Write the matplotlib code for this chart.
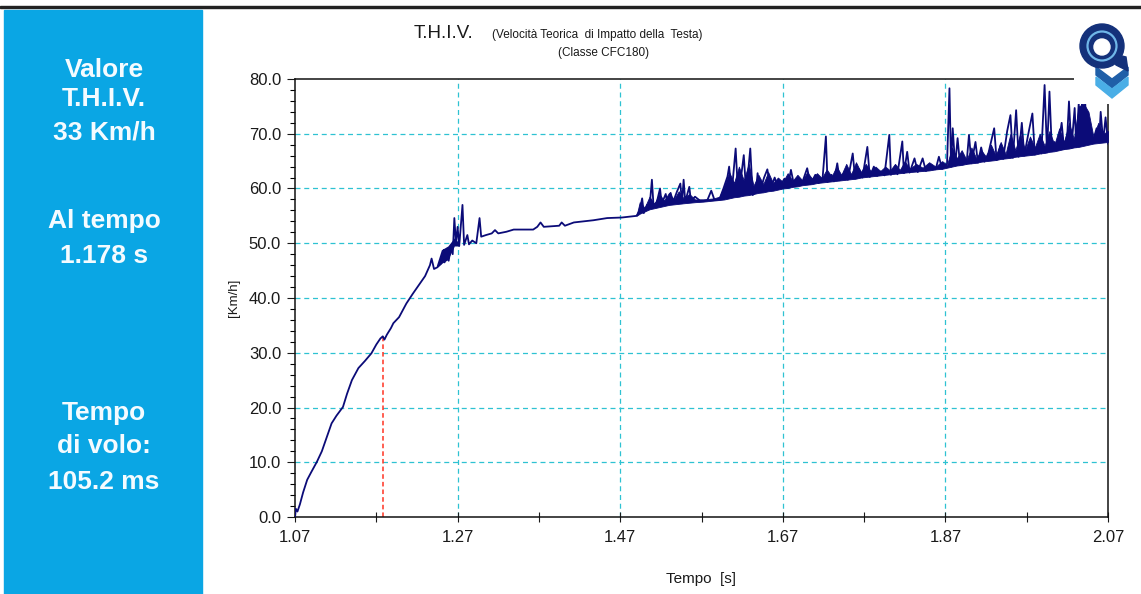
#!/usr/bin/env python3
"""
T.H.I.V. head impact velocity trace with side summary panel.
"""

import matplotlib
matplotlib.use("Agg")
import matplotlib.pyplot as plt
from matplotlib.patches import Rectangle, Circle, Polygon
from matplotlib.ticker import FixedLocator, MultipleLocator

W, H = 1141, 594
PANEL_BLUE = "#0AA6E4"
NAVY = "#0B0B78"
GRID_CYAN = "#2EC2D2"
RED = "#FF3322"
TEXT_DARK = "#1A1A1A"

# Summary panel texts
PANEL_LINES = ["Valore", "T.H.I.V.", "33 Km/h", "Al tempo", "1.178 s", "Tempo", "di volo:", "105.2 ms"]
PANEL_Y = [70, 99, 133, 221, 256, 413, 446, 482]

# THIV event
T_THIV = 1.178
V_THIV = 33.0

# Axis ticks
X_TICKS = [1.07, 1.17, 1.27, 1.37, 1.47, 1.57, 1.67, 1.77, 1.87, 1.97, 2.07]
X_LABELS = ["1.07", "", "1.27", "", "1.47", "", "1.67", "", "1.87", "", "2.07"]
X_GRID = [1.27, 1.47, 1.67, 1.87]
Y_TICKS = [0, 10, 20, 30, 40, 50, 60, 70, 80]

# Trace (time [s], velocity [Km/h])
TIME = [
    1.070, 1.071, 1.073, 1.076, 1.080, 1.085, 1.090, 1.097, 1.103, 1.110,
    1.115, 1.121, 1.129, 1.134, 1.140, 1.148, 1.156, 1.164, 1.170, 1.175,
    1.178, 1.180, 1.183, 1.188, 1.191, 1.198, 1.207, 1.215, 1.224, 1.230,
    1.236, 1.238, 1.241, 1.245, 1.250, 1.253, 1.254, 1.257, 1.259, 1.262,
    1.264, 1.266, 1.268, 1.270, 1.272, 1.276, 1.278, 1.282, 1.284, 1.288,
    1.293, 1.297, 1.299, 1.305, 1.312, 1.316, 1.320, 1.330, 1.339, 1.363,
    1.368, 1.372, 1.376, 1.395, 1.398, 1.402, 1.413, 1.437, 1.454, 1.472,
    1.490, 1.494, 1.497, 1.499, 1.503, 1.506, 1.509, 1.511, 1.515, 1.519,
    1.521, 1.526, 1.528, 1.532, 1.535, 1.540, 1.544, 1.546, 1.548, 1.550,
    1.555, 1.557, 1.562, 1.568, 1.577, 1.582, 1.586, 1.592, 1.597, 1.602,
    1.604, 1.607, 1.612, 1.615, 1.619, 1.622, 1.625, 1.630, 1.633, 1.637,
    1.639, 1.642, 1.647, 1.651, 1.655, 1.660, 1.664, 1.667, 1.672, 1.676,
    1.680, 1.684, 1.689, 1.693, 1.700, 1.704, 1.710, 1.714, 1.719, 1.723,
    1.725, 1.730, 1.733, 1.737, 1.740, 1.746, 1.750, 1.756, 1.759, 1.764,
    1.768, 1.774, 1.777, 1.782, 1.786, 1.790, 1.795, 1.801, 1.803, 1.808,
    1.811, 1.817, 1.819, 1.823, 1.826, 1.832, 1.836, 1.842, 1.846, 1.852,
    1.858, 1.862, 1.866, 1.872, 1.875, 1.877, 1.879, 1.882, 1.885, 1.888,
    1.893, 1.896, 1.899, 1.902, 1.907, 1.910, 1.914, 1.918, 1.923, 1.930,
    1.933, 1.938, 1.941, 1.946, 1.950, 1.953, 1.957, 1.960, 1.964, 1.967,
    1.972, 1.977, 1.980, 1.985, 1.988, 1.992, 1.995, 1.998, 2.001, 2.004,
    2.008, 2.013, 2.016, 2.020, 2.022, 2.025, 2.029, 2.031, 2.034, 2.036,
    2.038, 2.040, 2.042, 2.044, 2.047, 2.051, 2.056, 2.059, 2.061, 2.064,
    2.067, 2.070,
]
VELOCITY = [
    0.0, 1.5, 1.0, 2.3, 4.5, 6.8, 8.2, 10.1, 12.0, 15.0,
    17.1, 18.5, 20.1, 22.5, 25.0, 27.2, 28.5, 29.9, 31.5, 32.6,
    33.0, 32.4, 33.3, 34.5, 35.4, 36.5, 39.0, 40.8, 42.7, 44.0,
    46.0, 47.2, 45.3, 45.6, 46.3, 48.8, 46.5, 49.0, 46.8, 49.5,
    48.0, 54.6, 50.0, 53.0, 49.5, 57.0, 49.7, 51.5, 49.8, 50.5,
    50.0, 54.6, 51.2, 51.5, 51.8, 52.4, 51.8, 52.1, 52.5, 52.5,
    53.0, 53.8, 53.0, 53.2, 53.8, 53.2, 53.8, 54.2, 54.6, 54.7,
    55.0, 56.0, 58.2, 55.5, 57.0, 56.4, 61.6, 56.8, 57.5, 60.0,
    57.2, 59.0, 57.3, 59.2, 57.5, 59.5, 60.9, 57.3, 61.6, 57.6,
    60.3, 57.7, 58.5, 57.8, 57.8, 59.6, 57.9, 58.0, 60.0, 62.2,
    64.0, 59.0, 67.3, 59.0, 62.5, 66.1, 59.2, 67.3, 58.8, 59.4,
    62.8, 59.5, 62.0, 63.5, 60.0, 62.0, 60.0, 60.5, 61.8, 60.2,
    63.4, 60.5, 62.0, 60.7, 63.7, 60.8, 62.5, 61.0, 62.0, 69.5,
    61.2, 62.5, 61.3, 64.6, 61.5, 63.0, 61.6, 66.4, 61.8, 63.5,
    62.0, 67.6, 62.1, 64.0, 62.3, 63.1, 62.4, 69.8, 62.5, 64.0,
    62.6, 68.6, 62.8, 66.7, 62.9, 65.5, 63.0, 65.5, 63.2, 64.0,
    63.5, 65.8, 63.6, 64.5, 78.3, 64.0, 71.0, 64.2, 69.2, 64.3,
    65.5, 64.5, 69.8, 64.6, 68.5, 64.7, 67.5, 64.9, 66.5, 71.0,
    65.2, 68.0, 65.4, 70.5, 73.4, 65.6, 74.3, 65.8, 72.0, 66.0,
    70.0, 73.7, 66.2, 68.0, 66.4, 78.9, 66.6, 77.7, 66.8, 68.5,
    67.0, 72.0, 67.2, 70.0, 75.9, 67.4, 74.7, 67.6, 75.6, 68.0,
    75.6, 68.0, 75.6, 68.2, 72.0, 68.3, 71.0, 68.5, 74.0, 68.6,
    73.0, 68.2,
]

# Dense noise band (lower / upper envelope) where the trace looks solid
BAND1_TIME = [1.244, 1.250, 1.258, 1.266, 1.272]
BAND1_LOW = [45.6, 46.3, 47.0, 49.5, 49.5]
BAND1_HIGH = [46.0, 48.8, 49.5, 51.0, 50.0]

BAND2_TIME = [
    1.490, 1.494, 1.500, 1.506, 1.512, 1.518, 1.524, 1.530, 1.536, 1.542,
    1.548, 1.555, 1.562, 1.572, 1.585, 1.592, 1.598, 1.604, 1.610, 1.616,
    1.622, 1.628, 1.634, 1.640, 1.646, 1.652, 1.658, 1.664, 1.670, 1.676,
    1.682, 1.688, 1.694, 1.700, 1.706, 1.712, 1.718, 1.724, 1.730, 1.736,
    1.742, 1.748, 1.754, 1.760, 1.766, 1.772, 1.778, 1.784, 1.790, 1.796,
    1.802, 1.808, 1.814, 1.820, 1.826, 1.834, 1.842, 1.850, 1.858, 1.866,
    1.872, 1.878, 1.884, 1.890, 1.896, 1.902, 1.908, 1.914, 1.920, 1.926,
    1.932, 1.938, 1.944, 1.950, 1.956, 1.962, 1.968, 1.974, 1.980, 1.986,
    1.992, 1.998, 2.004, 2.010, 2.016, 2.022, 2.028, 2.034, 2.040, 2.046,
    2.052, 2.058, 2.064, 2.070,
]
BAND2_LOW = [
    55.0, 55.4, 55.8, 56.2, 56.4, 56.6, 56.8, 57.0, 57.1, 57.2,
    57.3, 57.4, 57.5, 57.6, 57.8, 57.9, 58.0, 58.2, 58.4, 58.5,
    58.7, 58.8, 59.0, 59.2, 59.3, 59.5, 59.6, 59.8, 60.0, 60.1,
    60.3, 60.4, 60.6, 60.7, 60.8, 61.0, 61.1, 61.2, 61.3, 61.4,
    61.5, 61.6, 61.7, 61.8, 62.0, 62.1, 62.2, 62.3, 62.4, 62.5,
    62.6, 62.7, 62.8, 62.9, 63.0, 63.1, 63.2, 63.3, 63.5, 63.6,
    63.8, 64.0, 64.2, 64.3, 64.5, 64.6, 64.7, 64.9, 65.0, 65.1,
    65.2, 65.4, 65.5, 65.6, 65.8, 65.9, 66.0, 66.1, 66.2, 66.4,
    66.5, 66.7, 66.8, 67.0, 67.2, 67.3, 67.5, 67.6, 67.8, 68.0,
    68.2, 68.3, 68.4, 68.5,
]
BAND2_HIGH = [
    55.0, 57.5, 56.5, 58.5, 57.2, 59.0, 57.8, 59.2, 58.0, 59.5,
    58.2, 59.0, 58.0, 58.0, 58.2, 58.5, 60.5, 63.0, 61.0, 64.0,
    61.5, 64.5, 60.5, 62.5, 60.8, 63.0, 61.0, 62.0, 61.2, 62.8,
    61.4, 62.5, 61.5, 63.0, 61.8, 62.8, 61.9, 63.5, 62.2, 64.0,
    62.5, 64.5, 62.6, 64.8, 63.0, 64.5, 63.2, 64.0, 63.2, 64.0,
    63.3, 64.5, 63.4, 65.0, 63.6, 64.5, 63.8, 64.8, 64.0, 65.0,
    64.3, 67.5, 65.5, 67.0, 65.2, 67.5, 65.5, 67.0, 65.8, 68.0,
    66.0, 68.5, 66.3, 70.0, 67.0, 70.0, 67.0, 69.5, 67.5, 70.0,
    67.8, 70.5, 68.0, 71.0, 68.5, 72.0, 69.0, 75.0, 75.5, 74.0,
    69.5, 72.0, 70.0, 70.5,
]


def px_rect(x0, y0, x1, y1):
    # pixel box (top-left origin) -> figure fraction rect
    return [x0 / W, 1 - y1 / H, (x1 - x0) / W, (y1 - y0) / H]


def draw_logo(fig):
    lax = fig.add_axes(px_rect(1074, 9, 1141, 104))
    lax.set_xlim(0, 67)
    lax.set_ylim(95, 0)
    lax.axis("off")
    lax.add_patch(Rectangle((0, 0), 67, 95, color="white", zorder=0))
    lax.add_patch(Polygon([[22, 58], [38, 70], [54, 58], [54, 66], [38, 79], [22, 66]],
                          closed=True, color="#1F5FA8", zorder=1))
    lax.add_patch(Polygon([[22, 68], [38, 80], [54, 68], [54, 76], [38, 89], [22, 76]],
                          closed=True, color="#4AAEE6", zorder=1))
    lax.add_patch(Circle((28, 37), 22, color="#14317A", zorder=2))
    lax.add_patch(Polygon([[36, 44], [52, 48], [54, 62], [42, 56]], closed=True,
                          color="#14317A", zorder=2))
    lax.add_patch(Circle((28, 37), 14.5, fill=False, lw=1.6, ec="#6FB6E8", zorder=3))
    lax.add_patch(Circle((28, 38), 8, color="white", zorder=3))


def main() -> None:
    plt.rcParams["font.family"] = ["Liberation Sans", "DejaVu Sans"]
    fig = plt.figure(figsize=(W / 100, H / 100), dpi=100)
    fig.patch.set_facecolor("white")

    # top border and summary panel
    fig.add_artist(Rectangle((0, 1 - 8 / H), 1, 2.2 / H, transform=fig.transFigure,
                             color="#222222", zorder=1))
    fig.add_artist(Rectangle((4 / W, 0), 198 / W, 1 - 10 / H, transform=fig.transFigure,
                             color=PANEL_BLUE, zorder=1))
    for txt, ypx in zip(PANEL_LINES, PANEL_Y):
        fig.text(104 / W, 1 - ypx / H, txt, ha="center", va="center", color="#F4FBFF",
                 fontsize=19, fontweight="bold", zorder=2)

    ax = fig.add_axes(px_rect(295, 79, 1108, 517))
    ax.fill_between(BAND1_TIME, BAND1_LOW, BAND1_HIGH, color=NAVY, lw=0, zorder=3)
    ax.fill_between(BAND2_TIME, BAND2_LOW, BAND2_HIGH, color=NAVY, lw=0.6, zorder=3)
    ax.plot(TIME, VELOCITY, color=NAVY, lw=1.3, zorder=3)
    ax.plot([T_THIV, T_THIV], [0, V_THIV], color=RED, lw=1.1, ls=(0, (3, 2)), zorder=2)

    for xg in X_GRID:
        ax.axvline(xg, color=GRID_CYAN, lw=0.9, ls=(0, (4, 3)), zorder=1)
    for yg in Y_TICKS[1:-1]:
        ax.axhline(yg, color=GRID_CYAN, lw=0.9, ls=(0, (4, 3)), zorder=1)

    ax.set_xlim(X_TICKS[0], X_TICKS[-1])
    ax.set_ylim(Y_TICKS[0], Y_TICKS[-1])
    ax.xaxis.set_major_locator(FixedLocator(X_TICKS))
    ax.set_xticklabels(X_LABELS)
    ax.yaxis.set_major_locator(FixedLocator(Y_TICKS))
    ax.set_yticklabels([f"{v:.1f}" for v in Y_TICKS])
    ax.yaxis.set_minor_locator(MultipleLocator(2))
    ax.tick_params(axis="x", which="major", direction="inout", length=7, width=0.8,
                   labelsize=12, colors=TEXT_DARK, pad=6)
    ax.tick_params(axis="y", which="major", direction="out", length=6, width=0.8,
                   labelsize=12, colors=TEXT_DARK, pad=4)
    ax.tick_params(axis="y", which="minor", direction="out", length=3.5, width=0.8)
    for s in ax.spines.values():
        s.set_color("#111111")
        s.set_linewidth(1.1)

    ax.set_xlabel("Tempo  [s]", fontsize=11, color=TEXT_DARK, labelpad=19)
    ax.set_ylabel("[Km/h]", fontsize=9.5, color=TEXT_DARK, labelpad=6)

    # title block
    fig.text(414 / W, 1 - 34 / H, "T.H.I.V.", fontsize=13.5, color=TEXT_DARK,
             ha="left", va="center")
    fig.text(492 / W, 1 - 35 / H, "(Velocità Teorica  di Impatto della  Testa)",
             fontsize=8.5, color=TEXT_DARK, ha="left", va="center",
             family=["Liberation Sans Narrow", "Liberation Sans"])
    fig.text(604 / W, 1 - 53 / H, "(Classe CFC180)", fontsize=8.5, color=TEXT_DARK,
             ha="center", va="center", family=["Liberation Sans Narrow", "Liberation Sans"])

    draw_logo(fig)

    fig.savefig("out.png", dpi=100, facecolor="white")
    plt.close(fig)


if __name__ == "__main__":
    main()
